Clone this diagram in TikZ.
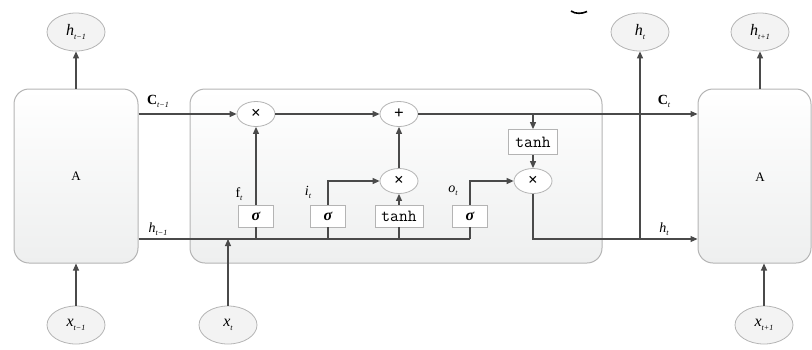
\documentclass[tikz,border=0pt]{standalone}
\usepackage{fontspec}
\setmainfont{Liberation Serif}
\usetikzlibrary{shapes.geometric,arrows.meta}
\definecolor{boxgray}{HTML}{B4B4B4}
\definecolor{cellfill}{HTML}{EEEFEF}
\definecolor{bubblefill}{HTML}{F3F3F3}
\definecolor{wiregray}{HTML}{4A4A4A}
% italic letter with a small subscript
\newcommand\lsub[2]{\textit{#1}\raisebox{-0.45ex}{\fontsize{8}{8}\selectfont\itshape #2}}
\tikzset{
  cellbox/.style={draw=boxgray, line width=1pt, rounded corners=15pt,
    top color=white, bottom color=cellfill, inner sep=0, font=\fontsize{13}{13}\selectfont},
  bubble/.style={ellipse, draw=boxgray, line width=0.8pt, fill=bubblefill,
    minimum width=58pt, minimum height=38pt, inner sep=0, font=\fontsize{16}{16}\selectfont},
  opnode/.style={ellipse, draw=boxgray, line width=0.8pt, fill=white,
    minimum width=38pt, minimum height=25pt, inner sep=0, font=\fontsize{17}{17}\selectfont\bfseries},
  gate/.style={draw=boxgray, line width=0.8pt, fill=white, minimum height=22pt,
    minimum width=35pt, inner sep=0, font=\fontsize{16}{16}\selectfont\bfseries},
  tgate/.style={gate, font=\fontsize{17}{17}\selectfont\ttfamily},
  wire/.style={draw=wiregray, line width=1.1pt},
  arr/.style={wire, -{Triangle[length=7pt,width=6pt]}},
  lbl/.style={font=\fontsize{14}{14}\selectfont, inner sep=0}
}
\begin{document}
\begin{tikzpicture}[x=1pt,y=-1pt]
\useasboundingbox (0,0) rectangle (812,349);

% cells
\node[cellbox, minimum width=124pt, minimum height=174pt] (A1) at (76,176) {A};
\node[cellbox, minimum width=412pt, minimum height=174pt] (cell) at (396,176) {};
\node[cellbox, minimum width=113pt, minimum height=174pt] (A2) at (754.5,176) {};
\node[font=\fontsize{13}{13}\selectfont] (A2txt) at (760,177) {A};

% outputs and inputs
\node[bubble] (ht1) at (76,32) {\lsub{h}{t−1}};
\node[bubble] (ht) at (640,32) {\lsub{h}{t}};
\node[bubble] (htp1) at (760,32) {\lsub{h}{t+1}};
\node[bubble] (xt1) at (76,325) {\lsub{x}{t−1}};
\node[bubble] (xt) at (228,325) {\lsub{x}{t}};
\node[bubble] (xtp1) at (764,325) {\lsub{x}{t+1}};

% pointwise operations
\node[opnode] (mulf) at (256,114) {×};
\node[opnode] (add) at (399,114) {+};
\node[opnode] (muli) at (399,181) {×};
\node[opnode] (mulo) at (533,181) {×};

% layers
\node[tgate, minimum width=49pt, minimum height=25pt] (tanhC) at (533,142) {tanh};
\node[gate] (sf) at (256,216) {\textit{σ}};
\node[gate] (si) at (328,216) {\textit{σ}};
\node[tgate, minimum width=48pt] (tg) at (399,216) {tanh};
\node[gate] (so) at (470,216) {\textit{σ}};

\coordinate (hrow) at (0,239);

% cell state
\draw[arr] (A1.east |- mulf) -- (mulf.west);
\draw[arr] (mulf.east) -- (add.west);
\draw[arr] (add.east) -- (A2.west |- add);
\draw[arr] (tanhC.north |- add) -- (tanhC.north);
\draw[arr] (tanhC.south) -- (mulo.north);

% hidden state and gates
\draw[wire] (A1.east |- hrow) -- (so |- hrow);
\draw[wire] (sf |- hrow) -- (sf.south);
\draw[wire] (si |- hrow) -- (si.south);
\draw[wire] (tg |- hrow) -- (tg.south);
\draw[wire] (so |- hrow) -- (so.south);
\draw[arr] (sf.north) -- (mulf.south);
\draw[arr] (si.north) |- (muli.west);
\draw[arr] (tg.north) -- (muli.south);
\draw[arr] (muli.north) -- (add.south);
\draw[arr] (so.north) |- (mulo.west);
\draw[arr] (mulo.south) |- (A2.west |- hrow);
\draw[arr] (ht |- hrow) -- (ht.south);

% inputs and outputs
\draw[arr] (A1.north) -- (ht1.south);
\draw[arr] (xt1.north) -- (A1.south);
\draw[arr] (xt.north) -- (xt |- hrow);
\draw[arr] (A2.north -| htp1) -- (htp1.south);
\draw[arr] (xtp1.north) -- (xtp1 |- A2.south);

% labels
\node[lbl] (lC1) at (158,101) {\textbf{C}\raisebox{-0.45ex}{\fontsize{8}{8}\selectfont\itshape t−1}};
\node[lbl] (lh1) at (158,229) {\lsub{h}{t−1}};
\node[lbl] (lC) at (664,101) {\textbf{C}\raisebox{-0.45ex}{\fontsize{8}{8}\selectfont\itshape t}};
\node[lbl] (lh) at (664,229) {\lsub{h}{t}};
\node[lbl] (lf) at (239,194) {f\raisebox{-0.45ex}{\fontsize{8}{8}\selectfont\itshape t}};
\node[lbl] (li) at (308,192) {\lsub{i}{t}};
\node[lbl] (lo) at (453,191) {\lsub{o}{t}};

% stray stroke at the top edge
\draw[line width=1.6pt, black] (571,11) .. controls (575,14) and (582,14) .. (587,11.5);
\end{tikzpicture}
\end{document}
